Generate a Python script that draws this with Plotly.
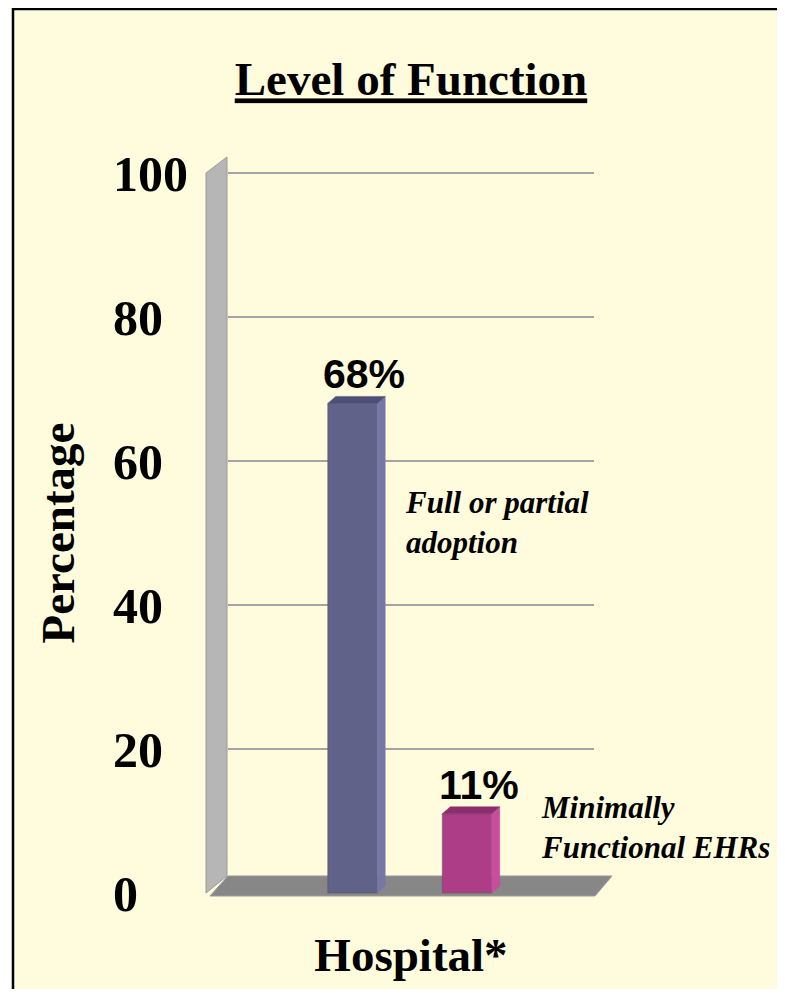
import plotly.graph_objects as go

# ---- data ----
categories = ["Full or partial adoption", "Minimally Functional EHRs"]
category_labels = ["Full or partial<br>adoption", "Minimally<br>Functional EHRs"]
values = [68, 11]
value_labels = ["68%", "11%"]
y_ticks = [0, 20, 40, 60, 80, 100]
title_text = "Level of Function"
y_title = "Percentage"
x_title = "Hospital*"

# ---- style / geometry (in screen pixels of the 785x997 window) ----
OFF = 8              # browser body margin
W, H = 777, 981
front_colors = ["#606289", "#AE3D87"]
side_colors = ["#7577A5", "#C74D9F"]
top_colors = ["#4D4F76", "#8C2E6D"]
SERIF = "Liberation Serif"
SANS = "Liberation Sans"

def px(x, y):
    return (x - OFF) / W, 1 - (y - OFF) / H

def path_px(points):
    s = ""
    for i, (x, y) in enumerate(points):
        X, Y = px(x, y)
        s += ("M" if i == 0 else "L") + f"{X:.5f},{Y:.5f} "
    return s + "Z"

x_pos = list(range(len(categories)))
bar_w = 0.432
unit_x_px = 114.5
unit_y_px = 7.2
dx = 8 / unit_x_px
dy = 7 / unit_y_px
y_lo, y_hi = -4, 104
y_bot_px = 893 - y_lo * unit_y_px
y_top_px = 893 - y_hi * unit_y_px

fig = go.Figure()

# front faces
fig.add_trace(go.Bar(
    x=x_pos, y=values, width=bar_w,
    marker=dict(color=front_colors, line=dict(color="#555", width=0.5)),
    customdata=categories, hovertemplate="%{customdata}: %{y}%<extra></extra>",
    showlegend=False,
))
# side and top faces (3D effect), derived from the data values
for i, v in zip(x_pos, values):
    r = i + bar_w / 2
    l = i - bar_w / 2
    fig.add_trace(go.Scatter(
        x=[r, r + dx, r + dx, r, r], y=[0, dy, v + dy, v, 0],
        fill="toself", fillcolor=side_colors[i], mode="lines",
        line=dict(width=0.5, color=side_colors[i]), hoverinfo="skip", showlegend=False))
    fig.add_trace(go.Scatter(
        x=[l, l + dx, r + dx, r, l], y=[v, v + dy, v + dy, v, v],
        fill="toself", fillcolor=top_colors[i], mode="lines",
        line=dict(width=0.5, color=top_colors[i]), hoverinfo="skip", showlegend=False))

bx0, by1 = px(13, 7.5)
shapes = [
    # page background with border
    dict(type="rect", xref="paper", yref="paper", x0=bx0, x1=1.05, y0=-0.05, y1=min(by1, 1 - 1 / H),
         fillcolor="#FEFCDD", line=dict(color="black", width=2.5), layer="below"),
    # side wall slab
    dict(type="path", xref="paper", yref="paper",
         path=path_px([(206, 173), (227, 157), (227, 876), (206, 893)]),
         fillcolor="#B6B6B6", line=dict(color="#9A9A9A", width=1), layer="below"),
    # floor
    dict(type="path", xref="paper", yref="paper",
         path=path_px([(210, 896), (228, 876), (612, 876), (595, 896)]),
         fillcolor="#878787", line=dict(color="#9A9A9A", width=1), layer="below"),
]

annotations = []
for i, (v, t) in enumerate(zip(values, value_labels)):
    annotations.append(dict(x=i, y=v, xref="x", yref="y", text=t, showarrow=False,
                            xanchor="center", yanchor="bottom", xshift=12, yshift=4,
                            font=dict(family=SANS, size=41, color="black", weight="bold")))
label_pos = [(403, 522), (539, 827)]
for (lx, ly), t in zip(label_pos, category_labels):
    X, Y = px(lx, ly)
    annotations.append(dict(x=X, y=Y, xref="paper", yref="paper", text=t, showarrow=False,
                            xanchor="left", yanchor="middle", align="left",
                            font=dict(family=SERIF, size=31, color="black",
                                      weight="bold", style="italic")))

tx, ty = px(411, 79)
xd0, _ = px(228, 0)
xd1, _ = px(594, 0)
_, yd0 = px(0, y_bot_px)
_, yd1 = px(0, y_top_px)
ypos, _ = px(109, 0)

fig.update_layout(
    width=W, height=H,
    margin=dict(l=0, r=0, t=0, b=0),
    paper_bgcolor="white",
    plot_bgcolor="rgba(0,0,0,0)",
    showlegend=False,
    shapes=shapes,
    annotations=annotations,
    title=dict(text=f"<u>{title_text}</u>", x=tx, xanchor="center",
               y=ty, yanchor="middle", yref="container",
               font=dict(family=SERIF, size=47, color="black", weight="bold")),
    xaxis=dict(domain=[xd0, xd1], range=[-1.087, 2.109],
               showticklabels=False, showgrid=False, zeroline=False, showline=False,
               fixedrange=True,
               title=dict(text=x_title, standoff=16,
                          font=dict(family=SERIF, size=47, color="black", weight="bold"))),
    yaxis=dict(domain=[yd0, yd1], range=[y_lo, y_hi],
               tickvals=y_ticks, ticks="", anchor="free", position=ypos,
               ticklabelposition="inside",
               showgrid=True, gridcolor="#A3A3A3", gridwidth=2,
               zeroline=True, zerolinecolor="#878787", zerolinewidth=2,
               showline=False, fixedrange=True,
               tickfont=dict(family=SERIF, size=50, color="black", weight="bold"),
               title=dict(text=y_title, standoff=22,
                          font=dict(family=SERIF, size=47, color="black", weight="bold"))),
)

fig.write_html("out.html")
